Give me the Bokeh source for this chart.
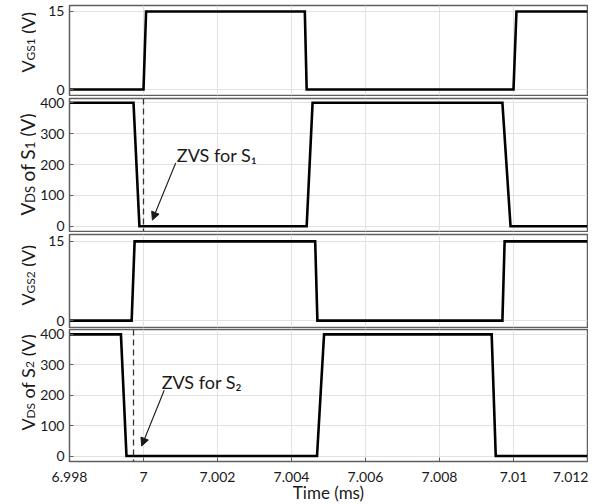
from math import pi
from bokeh.plotting import figure
from bokeh.layouts import column, row
from bokeh.models import (Range1d, FixedTicker, CustomJSTickFormatter, Span,
                          Arrow, NormalHead, Label, ColumnDataSource)
from bokeh.core.properties import value
from bokeh.embed import file_html
from bokeh.resources import INLINE

FONT = "Lato"

# ---------------- data (time in ms) ----------------
t_vgs1 = [6.998, 7.0000, 7.00007, 7.00436, 7.00441, 7.01000, 7.01008, 7.012]
v_vgs1 = [0, 0, 15, 15, 0, 0, 15, 15]

t_vds1 = [6.998, 6.99973, 6.99989, 7.00441, 7.00457, 7.00970, 7.00992, 7.012]
v_vds1 = [400, 400, 0, 0, 400, 400, 0, 0]

t_vgs2 = [6.998, 6.99968, 6.99976, 7.00464, 7.00470, 7.00970, 7.00976, 7.012]
v_vgs2 = [0, 0, 15, 15, 0, 0, 15, 15]

t_vds2 = [6.998, 6.99939, 6.99954, 7.00469, 7.00488, 7.00941, 7.00952, 7.012]
v_vds2 = [400, 400, 0, 0, 400, 400, 0, 0]

x_ticks = [6.998, 7.0, 7.002, 7.004, 7.006, 7.008, 7.010, 7.012]
vgs_ticks = [0, 15]
vds_ticks = [0, 100, 200, 300, 400]

zvs_s1_time = 7.0
zvs_s2_time = 6.99973

# annotation anchors (data units)
zvs1_text = ("ZVS for S₁", 7.00090, 232)
zvs1_arrow = (7.00087, 205, 7.00024, 20)
zvs2_text = ("ZVS for S₂", 7.00049, 244)
zvs2_arrow = (7.00056, 216, 6.99995, 33)

# y-axis titles: (pieces, subscript flags)
lab_vgs1 = [("V", False), ("GS1", True), (" (V)", False)]
lab_vds1 = [("V", False), ("DS", True), (" of S", False), ("1", True), (" (V)", False)]
lab_vgs2 = [("V", False), ("GS2", True), (" (V)", False)]
lab_vds2 = [("V", False), ("DS", True), (" of S", False), ("2", True), (" (V)", False)]

GRID = "#e2e2e2"
FRAME = "#5f5f5f"
INK = "#1a1a1a"

STRIP_W = 36
MAIN_W = 552

xr = Range1d(6.998, 7.012)


def panel(frame_h, yrange, yticks, top, bottom=1, xaxis=False):
    p = figure(width=MAIN_W, frame_height=frame_h, x_range=xr, y_range=Range1d(*yrange),
               output_backend="svg", toolbar_location=None,
               x_axis_location="below" if xaxis else None,
               min_border_left=33, min_border_right=1,
               min_border_top=top, min_border_bottom=bottom)
    p.outline_line_color = FRAME
    p.outline_line_width = 1.5
    ya = p.yaxis[0]
    ya.ticker = FixedTicker(ticks=yticks)
    ya.major_tick_in = 4
    ya.major_tick_out = 0
    ya.minor_tick_line_color = None
    ya.axis_line_color = FRAME
    ya.major_tick_line_color = FRAME
    ya.major_label_text_font = FONT
    ya.major_label_text_font_size = "14px"
    ya.major_label_text_color = INK
    ya.major_label_standoff = 5
    p.ygrid.grid_line_color = GRID
    p.xgrid.ticker = FixedTicker(ticks=x_ticks)
    p.xgrid.grid_line_color = GRID
    if xaxis:
        xa = p.xaxis[0]
        xa.ticker = FixedTicker(ticks=x_ticks)
        xa.formatter = CustomJSTickFormatter(code="return String(Number(tick.toFixed(3)));")
        xa.major_tick_in = 4
        xa.major_tick_out = 0
        xa.minor_tick_line_color = None
        xa.axis_line_color = FRAME
        xa.major_tick_line_color = FRAME
        xa.major_label_text_font = FONT
        xa.major_label_text_font_size = "14px"
        xa.major_label_text_color = INK
        xa.major_label_standoff = 10
        xa.axis_label = "Time (ms)"
        xa.axis_label_text_font = FONT
        xa.axis_label_text_font_size = "17px"
        xa.axis_label_text_font_style = "normal"
        xa.axis_label_text_color = INK
        xa.axis_label_standoff = -3
    return p


def signal(p, t, v):
    p.line(t, v, line_width=2.6, line_color="black", line_join="miter")


def zvs(p, txt, arr):
    text, tx, ty = txt
    xs, ys, xe, ye = arr
    p.add_layout(Arrow(end=NormalHead(size=8, fill_color=INK, line_color=INK, line_width=1),
                       x_start=xs, y_start=ys, x_end=xe, y_end=ye,
                       line_color=INK, line_width=1.1))
    p.add_layout(Label(x=tx, y=ty, text=text, text_font=FONT, text_font_size="18px",
                       text_color=INK, text_baseline="middle", text_align="left"))


p1 = panel(90, (-1.15, 16.15), vgs_ticks, top=5)
signal(p1, t_vgs1, v_vgs1)

p2 = panel(133, (-17, 414), vds_ticks, top=2)
signal(p2, t_vds1, v_vds1)
p2.add_layout(Span(location=zvs_s1_time, dimension="height", line_color="#333333",
                   line_width=1.3, line_dash="6 4"))
zvs(p2, zvs1_text, zvs1_arrow)

p3 = panel(93, (-1.3, 16.3), vgs_ticks, top=2)
signal(p3, t_vgs2, v_vgs2)

p4 = panel(132, (-18, 416), vds_ticks, top=1, bottom=30, xaxis=True)
signal(p4, t_vds2, v_vds2)
p4.add_layout(Span(location=zvs_s2_time, dimension="height", line_color="#333333",
                   line_width=1.3, line_dash="6 4"))
zvs(p4, zvs2_text, zvs2_arrow)

# ---- left strip carrying the rotated y-axis titles (pixel coordinates) ----
strip = figure(width=STRIP_W, height=500, x_range=Range1d(0, STRIP_W), y_range=Range1d(500, 0),
               output_backend="svg", toolbar_location=None,
               x_axis_location=None, y_axis_location=None,
               min_border=0, outline_line_color=None)
strip.xgrid.visible = False
strip.ygrid.visible = False

W = {'V': 0.66, 'G': 0.72, 'S': 0.54, 'D': 0.74, '1': 0.58, '2': 0.58,
     ' ': 0.26, 'o': 0.56, 'f': 0.34, '(': 0.32, ')': 0.32}

rows = {"x": [], "y": [], "text": [], "size": []}


def ylabel(pieces, y_start, main, sub, base=27.0, drop=2.5):
    y = y_start
    for txt, is_sub in pieces:
        size = sub if is_sub else main
        lead = len(txt) - len(txt.lstrip())
        y -= lead * W[' '] * size
        core = txt.strip()
        rows["x"].append(base + (drop if is_sub else 0))
        rows["y"].append(y)
        rows["text"].append(core)
        rows["size"].append(f"{size}px")
        y -= sum(W[c] for c in core) * size


ylabel(lab_vgs1, 72, 18, 12)
ylabel(lab_vds1, 215, 19, 13)
ylabel(lab_vgs2, 305, 18, 12)
ylabel(lab_vds2, 430, 18, 12)

strip.text(x="x", y="y", text="text", source=ColumnDataSource(rows), angle=pi / 2,
           text_font=value(FONT), text_font_size="size", text_color=INK,
           text_align="left", text_baseline="alphabetic")

layout = row(strip, column(p1, p2, p3, p4, spacing=0), spacing=0)
open("out.html", "w").write(file_html(layout, INLINE))
